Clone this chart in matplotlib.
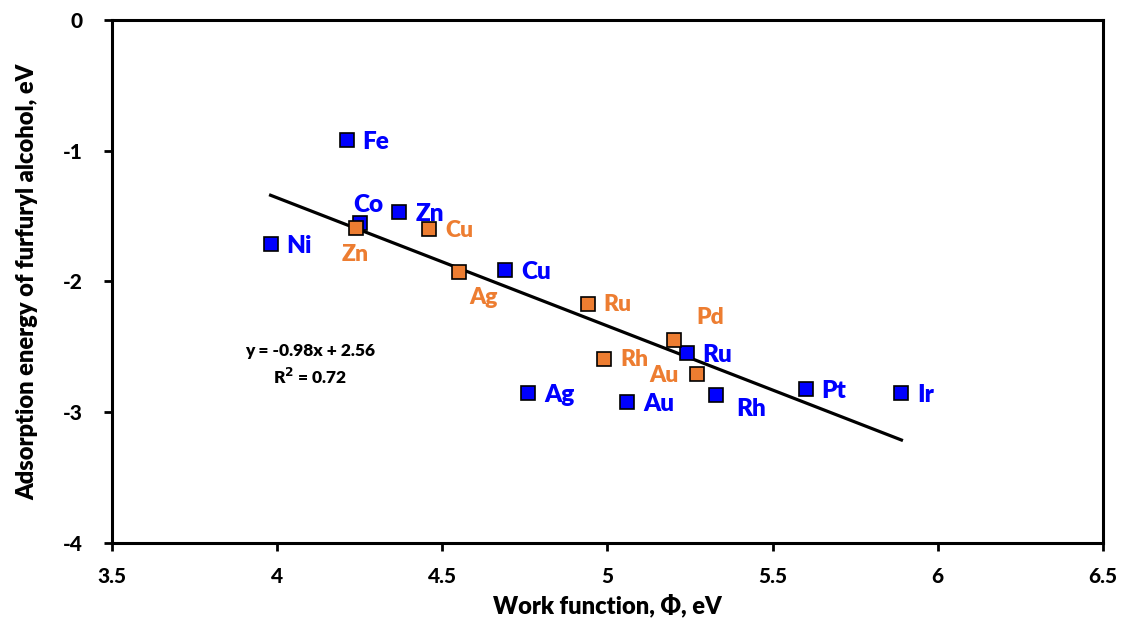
import numpy as np
import matplotlib.pyplot as plt

# Data
blue_metals = ['Fe', 'Co', 'Zn', 'Ni', 'Cu', 'Ru', 'Ag', 'Au', 'Rh', 'Pt', 'Ir']
blue_phi = [4.21, 4.25, 4.37, 3.98, 4.69, 5.24, 4.76, 5.06, 5.33, 5.60, 5.89]
blue_energy = [-0.92, -1.55, -1.47, -1.71, -1.91, -2.55, -2.85, -2.92, -2.87, -2.82, -2.85]

orange_metals = ['Zn', 'Cu', 'Ag', 'Ru', 'Rh', 'Pd', 'Au']
orange_phi = [4.24, 4.46, 4.55, 4.94, 4.99, 5.20, 5.27]
orange_energy = [-1.59, -1.60, -1.93, -2.17, -2.59, -2.45, -2.71]

slope = -0.98
intercept = 2.56
r_squared = 0.72

xticks = [3.5, 4, 4.5, 5, 5.5, 6, 6.5]
yticks = [0, -1, -2, -3, -4]

BLUE = '#0000FF'
ORANGE = '#ED7D31'
W = 'heavy'

plt.rcParams['font.family'] = ['Lato', 'DejaVu Sans']
plt.rcParams['font.weight'] = W

fig = plt.figure(figsize=(11.26, 6.34), dpi=100)
ax = fig.add_axes([0.0995, 0.1435, 0.88, 0.825])

# label offsets in pixels (dx, dy, ha)
blue_off = {'Co': (9, 18, 'center'), 'Rh': (20, -14, 'left')}
orange_off = {'Zn': (-1, -27, 'center'), 'Ag': (25, -25, 'center'),
              'Pd': (37, 23, 'center'), 'Au': (-18, -1, 'right')}

# trend line
all_phi = blue_phi + orange_phi
xl = np.array([min(all_phi), max(all_phi)])
ax.plot(xl, slope * xl + intercept, color='black', lw=2.3, zorder=2)

ax.plot(blue_phi, blue_energy, 's', ms=10, mfc=BLUE, mec='black', mew=1.2, zorder=3)
ax.plot(orange_phi, orange_energy, 's', ms=10, mfc=ORANGE, mec='black', mew=1.2, zorder=4)

for name, x, y in zip(blue_metals, blue_phi, blue_energy):
    dx, dy, ha = blue_off.get(name, (16, -2, 'left'))
    ax.annotate(name, (x, y), xytext=(dx, dy), textcoords='offset pixels',
                ha=ha, va='center', color=BLUE, fontsize=17.5, fontweight=W)

for name, x, y in zip(orange_metals, orange_phi, orange_energy):
    dx, dy, ha = orange_off.get(name, (16, -1, 'left'))
    ax.annotate(name, (x, y), xytext=(dx, dy), textcoords='offset pixels',
                ha=ha, va='center', color=ORANGE, fontsize=16.5, fontweight=W)

ax.text(0.2, 0.34, f'y = {slope:.2f}x + {intercept:.2f}\nR$^2$ = {r_squared:.2f}',
        transform=ax.transAxes, ha='center', va='center', fontsize=12.5,
        fontweight=W, linespacing=1.45)

ax.set_xlim(3.5, 6.5)
ax.set_ylim(-4, 0)
ax.set_xticks(xticks, [f'{t:g}' for t in xticks], fontweight='black', fontsize=15)
ax.set_yticks(yticks, [f'{t:g}' for t in yticks], fontweight='black', fontsize=15)
ax.tick_params(direction='out', length=6, width=2)
ax.tick_params(axis='x', pad=11)
ax.tick_params(axis='y', pad=15)
for sp in ax.spines.values():
    sp.set_linewidth(2.2)

ax.set_xlabel('Work function, Φ, eV', fontsize=17, fontweight=W, labelpad=6)
ax.set_ylabel('Adsorption energy of furfuryl alcohol, eV', fontsize=17,
              fontweight=W, labelpad=18)

fig.savefig('out.png', dpi=100)
